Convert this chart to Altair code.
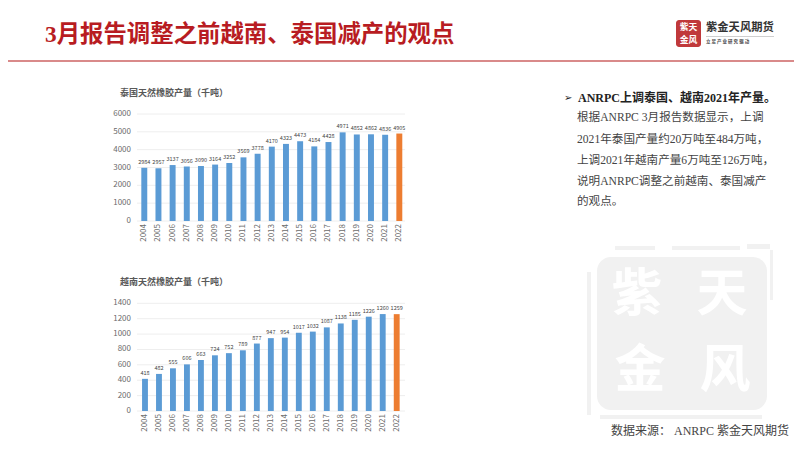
import altair as alt
import pandas as pd

OFF = 8  # page margin
years = [str(y) for y in range(2004, 2023)]
thai = [2984, 2957, 3137, 3056, 3090, 3164, 3252, 3569, 3778, 4170, 4323, 4473, 4184, 4428, 4971, 4852, 4862, 4836, 4905]
viet = [418, 482, 555, 606, 663, 724, 752, 789, 877, 947, 954, 1017, 1032, 1087, 1138, 1185, 1226, 1260, 1259]
thai_ticks = [0, 1000, 2000, 3000, 4000, 5000, 6000]
viet_ticks = [0, 200, 400, 600, 800, 1000, 1200, 1400]
bullet_lines = ["根据ANRPC 3月报告数据显示，上调", "2021年泰国产量约20万吨至484万吨，", "上调2021年越南产量6万吨至126万吨，", "说明ANRPC调整之前越南、泰国减产", "的观点。"]
BLUE, ORANGE = "#5B9BD5", "#ED7D31"
SERIF = "Liberation Serif, Noto Sans CJK SC"
SANS = "Noto Sans CJK SC"
AX = "#6b6b6b"

def txt(s, x, y, size, color="#333333", font=SANS, weight="normal", align="left", opacity=1):
    return alt.Chart(alt.Data(values=[{"t": s}])).mark_text(
        font=font, fontSize=size, color=color, fontWeight=weight, align=align, baseline="middle", opacity=opacity
    ).encode(x=alt.value(x - OFF), y=alt.value(y - OFF), text="t:N")

def box(x0, y0, x1, y1, color, radius=0, opacity=1):
    return alt.Chart(alt.Data(values=[{"a": 1}])).mark_rect(color=color, cornerRadius=radius, opacity=opacity).encode(
        x=alt.value(x0 - OFF), x2=alt.value(x1 - OFF), y=alt.value(y0 - OFF), y2=alt.value(y1 - OFF))

def panel(vals, ticks, top, bottom, left, right, gx0, gx1, title, title_y, lab_y, tick_x):
    df = pd.DataFrame({"year": years, "v": vals, "c": [BLUE] * 18 + [ORANGE]})
    tk = pd.DataFrame({"t": ticks})
    xs = alt.Scale(domain=years, range=[left - OFF, right - OFF], paddingInner=0.58, paddingOuter=0.29)
    ys = alt.Scale(domain=[ticks[0], ticks[-1]], range=[bottom - OFF, top - OFF])
    X = alt.X("year:N", scale=xs, axis=None)
    Y = alt.Y("v:Q", scale=ys, axis=None)
    TY = alt.Y("t:Q", scale=ys, axis=None)
    grid = alt.Chart(tk).mark_rule(color="#eeeeee", strokeWidth=1).encode(
        y=TY, x=alt.value(gx0 - OFF), x2=alt.value(gx1 - OFF))
    ticklab = alt.Chart(tk).mark_text(font=SANS, fontSize=8, color=AX, align="right", baseline="middle").encode(
        y=TY, x=alt.value(tick_x - OFF), text="t:Q")
    bars = alt.Chart(df).mark_bar().encode(x=X, y=Y, color=alt.Color("c:N", scale=None))
    labs = alt.Chart(df).mark_text(font=SANS, fontSize=5.5, color="#444444", baseline="bottom", dy=-3).encode(
        x=X, y=Y, text="v:Q")
    yrs = alt.Chart(df).mark_text(font=SANS, fontSize=8, color=AX, angle=270, align="right", baseline="middle").encode(
        x=X, y=alt.value(lab_y - OFF), text="year:N")
    return [grid, ticklab, bars, labs, yrs, txt(title, 120, title_y, 9, "#595959", SANS, "bold")]

WM = "#f1f1f1"
layers = [
    # watermark
    box(597, 257, 767, 410, WM, radius=14),
    box(615, 246, 655, 250, WM), box(672, 246, 740, 250, WM),
    box(747, 244, 770, 249, WM), box(770, 250, 773, 300, WM),
    box(587, 272, 591, 415, WM), box(600, 415, 762, 419, WM),
    txt("紫", 637, 296, 51, "#ffffff", SANS, "bold", "center"),
    txt("天", 722, 296, 51, "#ffffff", SANS, "bold", "center"),
    txt("金", 640, 372, 51, "#ffffff", SANS, "bold", "center"),
    txt("风", 725, 372, 51, "#ffffff", SANS, "bold", "center"),
    box(8, 60, 802, 62, "#d98a8a"),
    # header
    txt("3月报告调整之前越南、泰国减产的观点", 45, 35, 23.4, "#b81c22", SERIF, "bold"),
    box(676, 20, 701, 47, "#c0393b", radius=3),
    txt("紫天", 688.5, 27, 8.8, "#ffffff", SANS, "bold", "center"),
    txt("金风", 688.5, 40, 8.8, "#ffffff", SANS, "bold", "center"),
    txt("紫金天风期货", 706, 28, 11.3, "#333333", SANS, "bold"),
    box(706, 36, 774, 37, "#cfcfcf"),
    txt("立 足 产 业   研 究 驱 动", 706, 42, 4.5, "#444444", SANS, "bold"),
    # right column
    txt("➢", 564, 98, 10, "#222222", "DejaVu Sans"),
    txt("ANRPC上调泰国、越南2021年产量。", 578, 98, 12, "#222222", SERIF, "bold"),
    txt("数据来源： ANRPC 紫金天风期货", 611, 431, 12, "#444444", SERIF),
]
for line, y in zip(bullet_lines, [118, 140, 161, 182, 202]):
    layers.append(txt(line, 577, y, 11.6, "#444444", SERIF))

layers += panel(thai, thai_ticks, 114, 221, 137.2, 406.4, 137, 405, "泰国天然橡胶产量（千吨）", 93, 224, 131)
layers += panel(viet, viet_ticks, 303.3, 411, 138, 403.7, 137, 405, "越南天然橡胶产量（千吨）", 282, 414, 131)

chart = alt.layer(*layers).resolve_scale(x="independent", y="independent", color="independent").properties(
    width=786, height=435, padding=0, autosize=alt.AutoSizeParams(type="none"),
).configure_view(stroke=None)
chart.save("out.html", embed_options={"renderer": "svg", "actions": False})
